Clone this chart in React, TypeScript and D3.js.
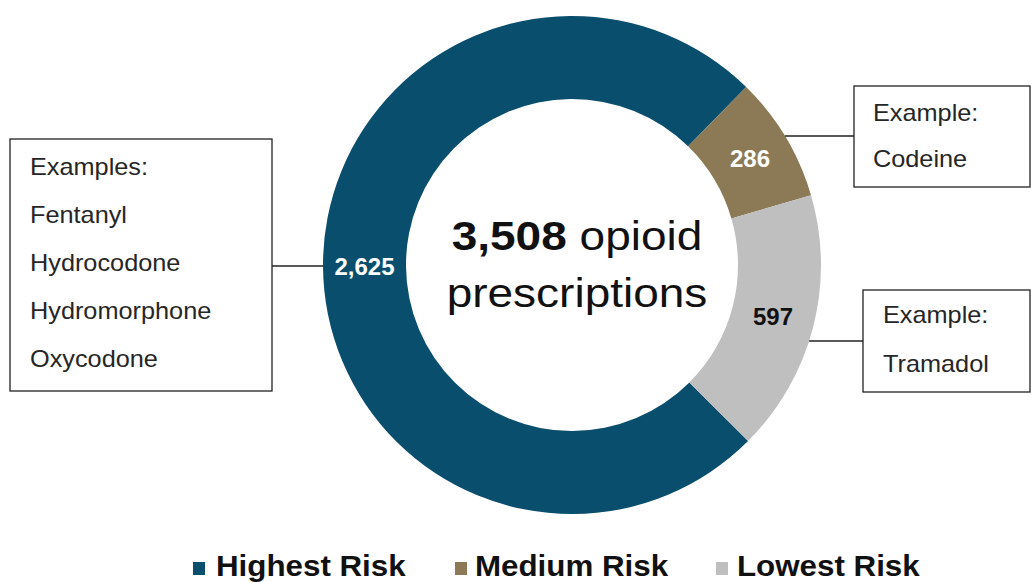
import React from "react";
import * as d3 from "d3";

// ---- data ----
const categories = ["Highest Risk", "Medium Risk", "Lowest Risk"];
const values = [2625, 286, 597];
const colors = ["#0A4E6D", "#8B7A55", "#BFBFBF"];
const valueLabelColors = ["#FFFFFF", "#FFFFFF", "#111111"];
const exampleHeadings = ["Examples:", "Example:", "Example:"];
const exampleDrugs = [
  ["Fentanyl", "Hydrocodone", "Hydromorphone", "Oxycodone"],
  ["Codeine"],
  ["Tramadol"],
];
const centerSuffix = " opioid";
const centerLine2 = "prescriptions";

// ---- layout ----
const W = 1031;
const H = 582;
const cx = 572;
const cy = 265;
const outerR = 249;
const innerR = 166;
const FONT = "'Liberation Sans', Arial, Helvetica, sans-serif";

// callout boxes: [x, y, w, h], text x, first baseline, line step, connector y
const boxes = [
  { x: 10, y: 139, w: 262, h: 252, tx: 30, ty: 175, step: 48, ly: 266, side: "left" },
  { x: 854, y: 86, w: 176, h: 101, tx: 873, ty: 121, step: 46, ly: 136, side: "right" },
  { x: 863, y: 290, w: 167, h: 102, tx: 883, ty: 323, step: 48.5, ly: 341, side: "right" },
];

const legendSquareX = [193, 455, 716];
const legendTextX = [216, 475, 737];

function SText({ x, y, sx = 1, anchor = "start", children, ...rest }: any) {
  return (
    <text transform={`translate(${x},${y}) scale(${sx},1)`} textAnchor={anchor} {...rest}>
      {children}
    </text>
  );
}

export default function App() {
  const total = d3.sum(values);
  const fmt = d3.format(",");
  const startA = (135 * Math.PI) / 180;
  const pie = d3
    .pie<number>()
    .sort(null)
    .startAngle(startA)
    .endAngle(startA + 2 * Math.PI)
    .value((d) => d);
  const arcs = pie(values);
  const arc = d3.arc<any>().innerRadius(innerR).outerRadius(outerR);
  const labelArc = d3
    .arc<any>()
    .innerRadius((innerR + outerR) / 2)
    .outerRadius((innerR + outerR) / 2);

  return (
    <svg
      width={W}
      height={H}
      viewBox={`0 0 ${W} ${H}`}
      style={{ position: "absolute", left: 0, top: 0, background: "#fff" }}
      fontFamily={FONT}
    >
      <rect x={0} y={0} width={W} height={H} fill="#fff" />
      <g transform={`translate(${cx},${cy})`}>
        {arcs.map((a, i) => (
          <path key={i} d={arc(a) as string} fill={colors[i]} />
        ))}
        {arcs.map((a, i) => {
          const [lx, ly] = labelArc.centroid(a);
          return (
            <text
              key={"l" + i}
              x={lx}
              y={ly}
              dy="0.36em"
              textAnchor="middle"
              fontWeight="bold"
              fontSize={24}
              fill={valueLabelColors[i]}
            >
              {fmt(values[i])}
            </text>
          );
        })}
      </g>

      {/* center text */}
      <SText x={577} y={250} sx={1.15} anchor="middle" fontSize={40} fill="#111">
        <tspan fontWeight="bold">{fmt(total)}</tspan>
        <tspan>{centerSuffix}</tspan>
      </SText>
      <SText x={577} y={307} sx={1.15} anchor="middle" fontSize={40} fill="#111">
        {centerLine2}
      </SText>

      {/* callouts */}
      {boxes.map((b, i) => {
        const dy = b.ly - cy;
        const dx = Math.sqrt(outerR * outerR - dy * dy);
        const ringX = b.side === "left" ? cx - dx : cx + dx;
        const boxX = b.side === "left" ? b.x + b.w : b.x;
        const lines = [exampleHeadings[i], ...exampleDrugs[i]];
        return (
          <g key={"b" + i}>
            <line x1={boxX} y1={b.ly} x2={ringX} y2={b.ly} stroke="#222" strokeWidth={1.3} />
            <rect x={b.x} y={b.y} width={b.w} height={b.h} fill="#fff" stroke="#222" strokeWidth={1.3} />
            {lines.map((t, j) => (
              <SText key={j} x={b.tx} y={b.ty + j * b.step} sx={1.1} fontSize={23} fill="#262626">
                {t}
              </SText>
            ))}
          </g>
        );
      })}

      {/* legend */}
      {categories.map((c, i) => (
        <g key={"lg" + i}>
          <rect x={legendSquareX[i]} y={562} width={12} height={13} fill={colors[i]} />
          <SText x={legendTextX[i]} y={576} sx={1.08} fontSize={29} fontWeight="bold" fill="#111">
            {c}
          </SText>
        </g>
      ))}
    </svg>
  );
}
